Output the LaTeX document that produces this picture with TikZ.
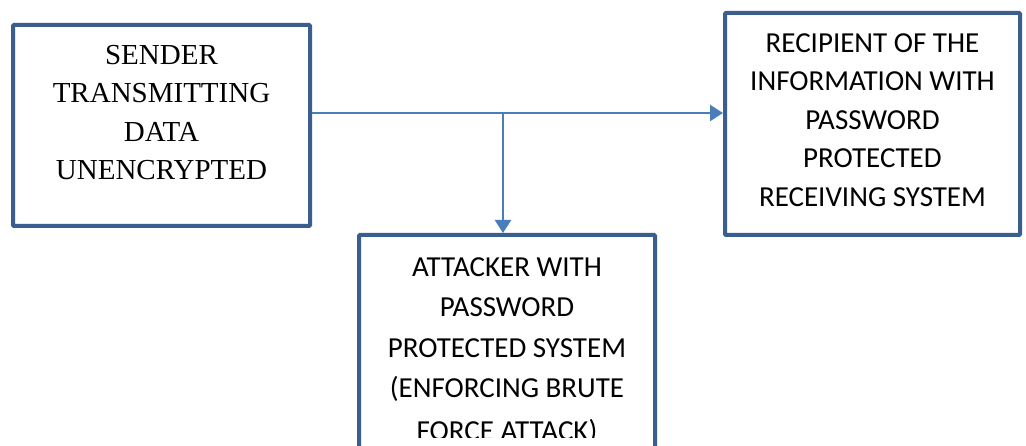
\documentclass[tikz,border=0pt]{standalone}
\usepackage{fontspec}
\setmainfont{Liberation Serif}
\newfontfamily\calfont{Carlito}
\usetikzlibrary{arrows.meta}
\definecolor{boxline}{HTML}{3A5F8E}
\definecolor{arrowline}{HTML}{4A7EBB}
\tikzset{
  box/.style={draw=boxline, line width=4pt, fill=white, inner sep=0pt, rounded corners=1pt},
  lbl/.style={anchor=north, inner sep=0pt, align=center, text=black},
  conn/.style={draw=arrowline, line width=2.4pt, -{Triangle[length=13pt,width=16pt]}},
}
\begin{document}
\begin{tikzpicture}[x=1pt,y=-1pt]
\useasboundingbox (0,0) rectangle (1026,446);
\clip (0,0) rectangle (1026,446);
\node[box, minimum width=297pt, minimum height=201pt] (sender) at (161.5,125.5) {};
\node[box, minimum width=295pt, minimum height=222pt] (recipient) at (872.5,124) {};
\node[box, minimum width=296pt, minimum height=240pt] (attacker) at (507,355) {};
\node[lbl, font=\fontsize{29}{38.5}\selectfont] (sendertxt) at (161.5,45) {SENDER\\TRANSMITTING\\DATA\\UNENCRYPTED};
\node[lbl, font=\calfont\fontsize{29}{38.6}\selectfont] (recipienttxt) at (872.5,33) {RECIPIENT OF THE\\INFORMATION WITH\\PASSWORD\\PROTECTED\\RECEIVING SYSTEM};
\begin{scope}
\clip (361,237) rectangle (653,437);
\node[lbl, font=\calfont\fontsize{29}{40.3}\selectfont] (attackertxt) at (507,257.5) {ATTACKER WITH\\PASSWORD\\PROTECTED SYSTEM\\(ENFORCING BRUTE\\[3pt]FORCE ATTACK)};
\end{scope}
\coordinate (split) at (503,113);
\draw[conn] (sender.east |- split) -- (recipient.west |- split);
\draw[conn] (split) -- (split |- attacker.north);
\end{tikzpicture}
\end{document}
